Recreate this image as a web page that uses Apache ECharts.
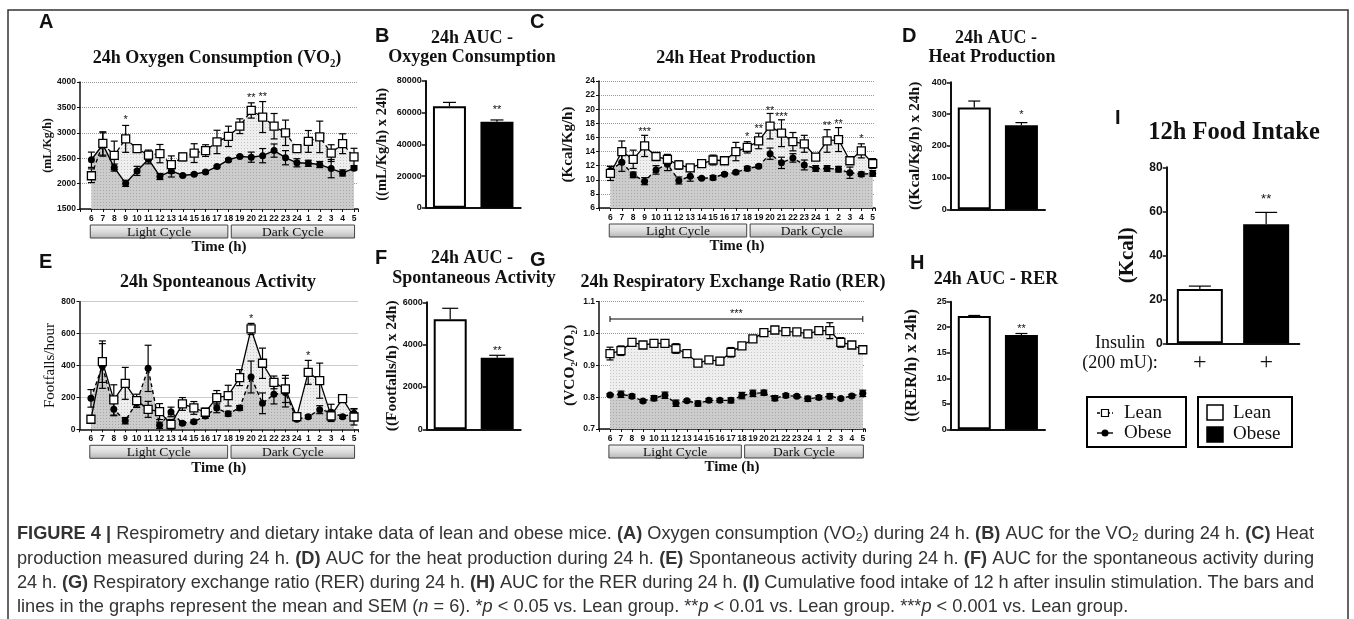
<!DOCTYPE html>
<html>
<head>
<meta charset="utf-8">
<script src="https://cdn.jsdelivr.net/npm/echarts@6/dist/echarts.min.js"></script>
<style>
html,body{margin:0;padding:0;background:#fff}
#main{width:1354px;height:619px}
</style>
</head>
<body>
<div id="main"></div>
<script>
// hour of day on the 24h panels
var hours = ['6','7','8','9','10','11','12','13','14','15','16','17','18','19','20','21','22','23','24','1','2','3','4','5'];
var groups = ['Lean', 'Obese'];

// A - oxygen consumption
var vo2Lean = [2155,2790,2556,2880,2690,2560,2590,2375,2525,2600,2650,2820,2930,3130,3440,3310,3130,3000,2690,2830,2920,2600,2785,2525];
var vo2LeanSem = [135,230,280,265,50,100,180,170,75,185,115,230,200,145,150,305,250,250,75,215,310,165,195,170];
var vo2Obese = [2470,2770,2315,2005,2250,2480,2140,2250,2160,2185,2230,2335,2465,2535,2520,2550,2650,2510,2410,2400,2375,2295,2210,2300];
var vo2ObeseSem = [150,230,70,60,90,90,60,120,20,20,20,20,30,20,100,140,130,140,80,60,60,180,60,30];
var vo2Sig = [[3,3294,'*'],[14,3731,'**'],[15,3751,'**']];

// C - heat production
var heatLean = [10.9,14.0,12.9,14.8,13.3,12.9,12.1,11.7,12.3,12.8,12.7,14.0,14.6,15.5,17.6,16.6,15.4,15.1,13.2,15.5,15.7,12.7,14.1,12.3];
var heatLeanSem = [1.0,1.5,1.3,1.5,0.4,0.7,0.6,0.3,0.2,0.7,0.3,1.3,0.8,1.1,1.8,1.9,1.3,1.2,0.4,1.6,1.7,0.5,1.0,0.7];
var heatObese = [11.3,12.5,10.7,9.8,11.4,12.2,9.9,10.5,10.2,10.3,10.8,11.05,11.6,11.9,13.7,12.4,13.1,12.1,11.6,11.6,11.5,11.0,10.8,10.9];
var heatObeseSem = [0.6,1.3,0.4,0.5,0.6,0.9,0.5,0.7,0.15,0.3,0.2,0.2,0.3,0.2,0.8,0.8,0.6,0.7,0.4,0.4,0.4,0.8,0.3,0.4];
var heatSig = [[3,17.0,'***'],[12,16.4,'*'],[13,17.5,'**'],[14,20.0,'**'],[15,19.15,'***'],[19,17.9,'**'],[20,18.2,'**'],[22,16.1,'*']];

// E - spontaneous activity
var actLean = [63,424,184,288,180,125,111,31,159,134,107,198,211,324,629,414,294,253,79,357,305,84,192,77];
var actLeanSem = [20,130,95,100,40,50,50,30,40,40,25,45,65,50,35,95,40,85,20,75,110,35,15,50];
var actObese = [194,397,125,54,167,382,25,109,38,48,84,134,98,134,328,163,219,230,63,79,123,107,79,100];
var actObeseSem = [55,140,40,20,30,145,20,30,10,10,15,30,15,15,100,65,60,90,10,10,25,50,10,30];
var actSig = [[14,706,'*'],[19,474,'*']];

// G - respiratory exchange ratio
var rerLean = [0.937,0.946,0.972,0.964,0.969,0.969,0.953,0.937,0.907,0.917,0.913,0.941,0.961,0.983,1.003,1.011,1.006,1.005,0.999,1.009,1.009,0.972,0.964,0.949];
var rerLeanSem = [0.02,0.015,0.005,0.006,0.005,0.012,0.015,0.005,0.01,0.005,0.012,0.015,0.006,0.005,0.005,0.004,0.004,0.004,0.004,0.012,0.025,0.015,0.005,0.004];
var rerObese = [0.807,0.809,0.803,0.788,0.797,0.806,0.781,0.789,0.780,0.790,0.790,0.790,0.805,0.812,0.814,0.797,0.805,0.803,0.795,0.799,0.803,0.796,0.804,0.812];
var rerObeseSem = [0.004,0.01,0.006,0.004,0.008,0.01,0.01,0.004,0.008,0.006,0.006,0.008,0.01,0.01,0.008,0.008,0.006,0.005,0.008,0.006,0.008,0.004,0.005,0.01];
var rerBracket = [0, 23, 1.0456, '***'];

// AUC bars (Lean, Obese)
var aucVo2 = [64000, 54300], aucVo2Sem = [2500, 1100], aucVo2Sig = [[1, 62800, '**']];
var aucHeat = [321, 265], aucHeatSem = [20, 8], aucHeatSig = [[1, 303, '*']];
var aucAct = [5197, 3386], aucActSem = [520, 110], aucActSig = [[1, 3808, '**']];
var aucRer = [22.2, 18.47], aucRerSem = [0.1, 0.3], aucRerSig = [[1, 20.1, '**']];
var food = [24.7, 54.1], foodSem = [1.3, 5.4], foodSig = [[1, 66.4, '**']];

// light / dark bands under the time axis (in hour index units)
var cycleBands = [['Light Cycle', -0.1, 11.95], ['Dark Cycle', 12.25, 23.05]];

var SERIF = '"Liberation Serif","Times New Roman",serif';
var SANS = '"Liberation Sans",Arial,sans-serif';
var INK = '#111';

function dotPattern(bg, dot) {
    var c = document.createElement('canvas');
    c.width = 3; c.height = 3;
    var g = c.getContext('2d');
    g.fillStyle = bg; g.fillRect(0, 0, 3, 3);
    g.fillStyle = dot; g.fillRect(1, 1, 1, 1);
    return {image: c, repeat: 'repeat'};
}
var leanFill = dotPattern('#eeeeee', '#c6c6c6');
var obeseFill = dotPattern('#cccccc', '#a8a8a8');

var grids = [], xAxes = [], yAxes = [], series = [], graphics = [];

function plain(v) { return String(v); }

function ln(x1, y1, x2, y2, w) {
    return {type: 'line', shape: {x1: x1, y1: y1, x2: x2, y2: y2}, style: {stroke: '#000', lineWidth: w || 1.2}};
}
function txt(x, y, s, font, align) {
    return {type: 'text', x: x, y: y, style: {text: s, font: font, fill: INK,
        align: align || 'center', verticalAlign: 'middle', textAlign: align || 'center', textVerticalAlign: 'middle'}};
}

function errorBars(gi, xs, means, sems, capW, upOnly, z) {
    return {type: 'custom', xAxisIndex: gi, yAxisIndex: gi, z: z, silent: true,
        data: means.map(function (m, i) { return [xs[i], m, sems[i]]; }),
        encode: {x: 0, y: 1},
        renderItem: function (params, api) {
            var x = api.value(0), m = api.value(1), e = api.value(2);
            var top = api.coord([x, m + e]), bot = api.coord([x, upOnly ? m : m - e]);
            var ch = [ln(top[0], top[1], bot[0], bot[1]), ln(top[0] - capW, top[1], top[0] + capW, top[1])];
            if (!upOnly) ch.push(ln(bot[0] - capW, bot[1], bot[0] + capW, bot[1]));
            return {type: 'group', children: ch};
        }};
}

function stars(gi, list, fs) {
    return {type: 'custom', xAxisIndex: gi, yAxisIndex: gi, z: 6, silent: true,
        data: list.map(function (s) { return [s[0], s[1]]; }),
        encode: {x: 0, y: 1},
        renderItem: function (params, api) {
            var p = api.coord([api.value(0), api.value(1)]);
            return txt(p[0], p[1] + 2, list[params.dataIndex][2], fs + 'px ' + SANS);
        }};
}

function cycles(gi, yMin) {
    return {type: 'custom', xAxisIndex: gi, yAxisIndex: gi, z: 5, silent: true,
        data: cycleBands.map(function (b) { return [b[1], b[2], yMin]; }),
        encode: {x: [0, 1], y: 2},
        renderItem: function (params, api) {
            var a = api.coord([api.value(0), api.value(2)]), b = api.coord([api.value(1), api.value(2)]);
            var y = a[1] + 16;
            return {type: 'group', children: [
                {type: 'rect', shape: {x: a[0], y: y, width: b[0] - a[0], height: 13},
                    style: {fill: new echarts.graphic.LinearGradient(0, 0, 0, 1, [
                        {offset: 0, color: '#f3f3f3'}, {offset: 0.5, color: '#dcdcdc'}, {offset: 1, color: '#b5b5b5'}]),
                        stroke: '#444', lineWidth: 1}},
                txt((a[0] + b[0]) / 2, y + 7, cycleBands[params.dataIndex][0], '13.5px ' + SERIF)
            ]};
        }};
}

function pts(arr) { return arr.map(function (v, i) { return [i, v]; }); }

function linePanel(p) {
    var gi = grids.length;
    grids.push({left: p.box[0], top: p.box[1], width: p.box[2], height: p.box[3], outerBoundsMode: 'none'});
    xAxes.push({type: 'value', gridIndex: gi, min: -1, max: p.xMax, interval: 1,
        axisLine: {onZero: false, lineStyle: {color: INK, width: 1.5}},
        axisTick: {length: 3, lineStyle: {color: INK, width: 1}},
        splitLine: {show: false},
        axisLabel: {margin: 5, fontSize: 8.5, fontWeight: 'bold', fontFamily: SANS, color: INK, hideOverlap: false,
            formatter: function (v) {
                var i = Math.round(v);
                return (Math.abs(v - i) < 1e-6 && i >= 0 && i < hours.length) ? hours[i] : '';
            }},
        name: 'Time (h)', nameLocation: 'middle', nameGap: 31, nameMoveOverlap: false,
        nameTextStyle: {fontFamily: SERIF, fontWeight: 'bold', fontSize: 15, color: INK}});
    yAxes.push({type: 'value', gridIndex: gi, min: p.yMin, max: p.yMax, interval: p.yInt,
        axisLine: {show: true, onZero: false, lineStyle: {color: INK, width: 1.5}},
        axisTick: {show: true, length: 3, lineStyle: {color: INK}},
        splitLine: {show: true, lineStyle: {color: '#999', type: 'dotted', width: 1}},
        axisLabel: {margin: 4, fontSize: 8.5, fontWeight: 'bold', fontFamily: SANS, color: INK, formatter: p.yFmt || plain},
        name: p.yName, nameLocation: 'middle', nameGap: p.yGap, nameRotate: 90, nameMoveOverlap: false,
        nameTextStyle: {fontFamily: SERIF, fontWeight: p.yBold === false ? 'normal' : 'bold', fontSize: p.yFs, color: INK}});
    var xs = hours.map(function (h, i) { return i; });
    series.push({type: 'line', xAxisIndex: gi, yAxisIndex: gi, data: pts(p.lean), symbol: 'none', silent: true, z: 1,
        lineStyle: {width: 0, opacity: 0}, areaStyle: {color: leanFill, opacity: 1, origin: 'start'}});
    series.push({type: 'line', xAxisIndex: gi, yAxisIndex: gi, data: pts(p.obese), symbol: 'none', silent: true, z: 1,
        lineStyle: {width: 0, opacity: 0}, areaStyle: {color: obeseFill, opacity: 1, origin: 'start'}});
    series.push(errorBars(gi, xs, p.lean, p.leanSem, 3.5, false, 2));
    series.push(errorBars(gi, xs, p.obese, p.obeseSem, 3.5, false, 2));
    series.push({type: 'line', name: 'Obese', xAxisIndex: gi, yAxisIndex: gi, data: pts(p.obese), silent: true, z: 3,
        symbol: 'circle', symbolSize: 7, itemStyle: {color: '#000'},
        lineStyle: {color: '#000', width: 1.4, type: p.leanDash ? 'solid' : [4, 3]}});
    series.push({type: 'line', name: 'Lean', xAxisIndex: gi, yAxisIndex: gi, data: pts(p.lean), silent: true, z: 4,
        symbol: 'rect', symbolSize: 8, itemStyle: {color: '#fff', borderColor: '#000', borderWidth: 1.3},
        lineStyle: {color: '#000', width: 1.3, type: p.leanDash ? [4, 3] : 'solid'}});
    if (p.sig) series.push(stars(gi, p.sig, 11));
    series.push(cycles(gi, p.yMin));
    return gi;
}

function barPanel(p) {
    var gi = grids.length;
    grids.push({left: p.box[0], top: p.box[1], width: p.box[2], height: p.box[3], outerBoundsMode: 'none'});
    xAxes.push({type: 'category', gridIndex: gi, data: groups,
        axisLine: {lineStyle: {color: INK, width: 2}}, axisTick: {show: false},
        axisLabel: p.plus ? {show: true, formatter: function () { return '+'; }, fontFamily: SERIF, fontSize: 24, color: INK, margin: 7}
                          : {show: false}});
    yAxes.push({type: 'value', gridIndex: gi, min: 0, max: p.yMax, interval: p.yInt,
        axisLine: {show: true, onZero: false, lineStyle: {color: INK, width: 2}},
        axisTick: {show: true, length: 4, lineStyle: {color: INK, width: 1.5}},
        splitLine: {show: false},
        axisLabel: {margin: 4, fontSize: p.tickFs || 9, fontWeight: 'bold', fontFamily: SANS, color: INK, formatter: plain},
        name: p.yName, nameLocation: 'middle', nameGap: p.yGap, nameRotate: 90, nameMoveOverlap: false,
        nameTextStyle: {fontFamily: SERIF, fontWeight: 'bold', fontSize: p.yFs, color: INK}});
    series.push({type: 'bar', xAxisIndex: gi, yAxisIndex: gi, barWidth: p.barW, silent: true, z: 2,
        data: p.vals.map(function (v, i) {
            return {value: v, itemStyle: {color: i ? '#000' : '#fff', borderColor: '#000', borderWidth: 2}};
        })});
    series.push(errorBars(gi, [0, 1], p.vals, p.sems, p.cap, true, 3));
    series.push(stars(gi, p.sig, p.starFs || 11));
}

// panels
linePanel({box: [80, 82, 278, 127], xMax: 23.35, yMin: 1500, yMax: 4000, yInt: 500,
    yName: '(mL/Kg/h)', yGap: 26, yFs: 12, lean: vo2Lean, leanSem: vo2LeanSem, obese: vo2Obese, obeseSem: vo2ObeseSem,
    leanDash: true, sig: vo2Sig});
barPanel({box: [425.7, 81, 95, 126.7], yMax: 80000, yInt: 20000, yName: '((mL/Kg/h) x 24h)', yGap: 36, yFs: 14.5,
    vals: aucVo2, sems: aucVo2Sem, sig: aucVo2Sig, barW: 33, cap: 6.5});
linePanel({box: [599, 81, 276, 127], xMax: 23.2, yMin: 6, yMax: 24, yInt: 2,
    yName: '(Kcal/Kg/h)', yGap: 23.5, yFs: 15, lean: heatLean, leanSem: heatLeanSem, obese: heatObese, obeseSem: heatObeseSem,
    leanDash: false, sig: heatSig});
barPanel({box: [950.7, 82.3, 94.3, 127], yMax: 400, yInt: 100, yName: '((Kcal/Kg/h) x 24h)', yGap: 28, yFs: 15.5,
    vals: aucHeat, sems: aucHeatSem, sig: aucHeatSig, barW: 33, cap: 6});
linePanel({box: [79.5, 301.7, 278.5, 127.6], xMax: 23.35, yMin: 0, yMax: 800, yInt: 200,
    yName: 'Footfalls/hour', yGap: 21.5, yFs: 15, yBold: false, lean: actLean, leanSem: actLeanSem, obese: actObese, obeseSem: actObeseSem,
    leanDash: false, sig: actSig});
barPanel({box: [426.7, 302.3, 94, 127], yMax: 6000, yInt: 2000, yName: '((Footfalls/h) x 24h)', yGap: 27, yFs: 15.5,
    vals: aucAct, sems: aucActSem, sig: aucActSig, barW: 33, cap: 8});
var gG = linePanel({box: [599, 301.7, 266, 127.3], xMax: 23.2, yMin: 0.7, yMax: 1.1, yInt: 0.1,
    yFmt: function (v) { return v.toFixed(1); },
    yName: '(VCO₂/VO₂)', yGap: 21, yFs: 15.5, lean: rerLean, leanSem: rerLeanSem, obese: rerObese, obeseSem: rerObeseSem,
    leanDash: false});
series.push({type: 'custom', xAxisIndex: gG, yAxisIndex: gG, z: 6, silent: true,
    data: [[rerBracket[0], rerBracket[1], rerBracket[2]]], encode: {x: [0, 1], y: 2},
    renderItem: function (params, api) {
        var a = api.coord([api.value(0), api.value(2)]), b = api.coord([api.value(1), api.value(2)]);
        return {type: 'group', children: [
            ln(a[0], a[1], b[0], b[1], 1), ln(a[0], a[1] - 3, a[0], a[1] + 3, 1), ln(b[0], b[1] - 3, b[0], b[1] + 3, 1),
            txt((a[0] + b[0]) / 2, a[1] - 5, rerBracket[3], '11px ' + SANS)
        ]};
    }});
barPanel({box: [950.7, 301.7, 94.3, 127.6], yMax: 25, yInt: 5, yName: '((RER/h) x 24h)', yGap: 30, yFs: 16.5,
    vals: aucRer, sems: aucRerSem, sig: aucRerSig, barW: 33, cap: 6});
barPanel({box: [1166.7, 167.3, 132.6, 176], yMax: 80, yInt: 20, yName: '(Kcal)', yGap: 29, yFs: 21, tickFs: 12,
    vals: food, sems: foodSem, sig: foodSig, barW: 46, cap: 11, plus: true, starFs: 13});

// frame, panel letters, titles
graphics.push({type: 'polyline', shape: {points: [[8, 619], [8, 10], [1348, 10], [1348, 619]]},
    style: {stroke: '#333', lineWidth: 1.5, fill: null}});
var LET = 'bold 20px ' + SANS, TT = 'bold 18px ' + SERIF;
[['A', 39, 22], ['B', 375, 36], ['C', 530, 22], ['D', 902, 36], ['E', 39, 262], ['F', 375, 258],
 ['G', 530, 260], ['H', 910, 263], ['I', 1115, 118]].forEach(function (l) {
    graphics.push(txt(l[1], l[2], l[0], LET, 'left'));
});
[['24h Oxygen Consumption (VO₂)', 217, 58], ['24h AUC -', 472, 38], ['Oxygen Consumption', 472, 57],
 ['24h Heat Production', 736, 58], ['24h AUC -', 996, 38], ['Heat Production', 992, 57],
 ['24h Sponteanous Activity', 218, 282], ['24h AUC -', 472, 258], ['Spontaneous Activity', 474, 278],
 ['24h Respiratory Exchange Ratio (RER)', 733, 282], ['24h AUC - RER', 996, 279]].forEach(function (t) {
    graphics.push(txt(t[1], t[2], t[0], TT));
});
graphics.push(txt(1234, 133, '12h Food Intake', 'bold 24.5px ' + SERIF));
graphics.push(txt(1120, 343, 'Insulin', '18px ' + SERIF));
graphics.push(txt(1120, 363, '(200 mU):', '18px ' + SERIF));

// legends under panel I
var LG = '19px ' + SERIF;
graphics.push({type: 'rect', shape: {x: 1087, y: 397, width: 99, height: 50}, style: {fill: null, stroke: '#000', lineWidth: 2}});
graphics.push({type: 'line', shape: {x1: 1097, y1: 413, x2: 1113, y2: 413}, style: {stroke: '#000', lineWidth: 1.3, lineDash: [3, 2]}});
graphics.push({type: 'rect', shape: {x: 1101.5, y: 409.5, width: 7, height: 7}, style: {fill: '#fff', stroke: '#000', lineWidth: 1.2}});
graphics.push({type: 'line', shape: {x1: 1097, y1: 433, x2: 1113, y2: 433}, style: {stroke: '#000', lineWidth: 1.4}});
graphics.push({type: 'circle', shape: {cx: 1105, cy: 433, r: 3.5}, style: {fill: '#000'}});
graphics.push(txt(1124, 413, 'Lean', LG, 'left'));
graphics.push(txt(1124, 433, 'Obese', LG, 'left'));
graphics.push({type: 'rect', shape: {x: 1198, y: 397, width: 94, height: 50}, style: {fill: null, stroke: '#000', lineWidth: 2}});
graphics.push({type: 'rect', shape: {x: 1207, y: 405, width: 16, height: 15}, style: {fill: '#fff', stroke: '#000', lineWidth: 1.5}});
graphics.push({type: 'rect', shape: {x: 1207, y: 427, width: 16, height: 15}, style: {fill: '#000', stroke: '#000', lineWidth: 1.5}});
graphics.push(txt(1233, 413, 'Lean', LG, 'left'));
graphics.push(txt(1233, 434, 'Obese', LG, 'left'));

// caption, justified word by word
var capLines = [
    '{b|FIGURE} {b|4} {b||} Respirometry and dietary intake data of lean and obese mice. {b|(A)} Oxygen consumption (VO₂) during 24 h. {b|(B)} AUC for the VO₂ during 24 h. {b|(C)} Heat',
    'production measured during 24 h. {b|(D)} AUC for the heat production during 24 h. {b|(E)} Spontaneous activity during 24 h. {b|(F)} AUC for the spontaneous activity during',
    '24 h. {b|(G)} Respiratory exchange ratio (RER) during 24 h. {b|(H)} AUC for the RER during 24 h. {b|(I)} Cumulative food intake of 12 h after insulin stimulation. The bars and',
    'lines in the graphs represent the mean and SEM ({i|n} = 6). *{i|p} < 0.05 vs. Lean group. **{i|p} < 0.01 vs. Lean group. ***{i|p} < 0.001 vs. Lean group.'
];
var CAP_X = 17, CAP_W = 1297, capY = [534, 558.5, 582.5, 606.5];
var mctx = document.createElement('canvas').getContext('2d');
function fontOf(k, fs) { return (k === 'b' ? 'bold ' : k === 'i' ? 'italic ' : '') + fs + 'px ' + SANS; }
function segs(tok) {
    var out = [], re = /\{(\w+)\|([^}]*)\}/g, last = 0, m;
    while ((m = re.exec(tok))) {
        if (m.index > last) out.push(['', tok.slice(last, m.index)]);
        out.push([m[1], m[2]]);
        last = re.lastIndex;
    }
    if (last < tok.length) out.push(['', tok.slice(last)]);
    return out;
}
function tokW(tok, fs) {
    return segs(tok).reduce(function (s, g) { mctx.font = fontOf(g[0], fs); return s + mctx.measureText(g[1]).width; }, 0);
}
function lineW(line, fs) {
    var w = line.split(' ');
    mctx.font = fontOf('', fs);
    return w.reduce(function (s, t) { return s + tokW(t, fs); }, 0) + mctx.measureText(' ').width * (w.length - 1);
}
var capFs = 16 * CAP_W / lineW(capLines[0], 16);
var capRich = {b: {font: fontOf('b', capFs), fill: '#333'}, i: {font: fontOf('i', capFs), fill: '#333'}};
capLines.forEach(function (line, li) {
    var words = line.split(' ');
    var ws = words.map(function (w) { return tokW(w, capFs); });
    var sum = ws.reduce(function (a, b) { return a + b; }, 0);
    mctx.font = fontOf('', capFs);
    var gap = li < 3 ? (CAP_W - sum) / (words.length - 1) : mctx.measureText(' ').width;
    var x = CAP_X;
    words.forEach(function (w, i) {
        graphics.push({type: 'text', x: x, y: capY[li], style: {text: w, rich: capRich, font: fontOf('', capFs), fill: '#333',
            align: 'left', verticalAlign: 'middle', textAlign: 'left', textVerticalAlign: 'middle'}});
        x += ws[i] + gap;
    });
});

var chart = echarts.init(document.getElementById('main'));
chart.setOption({
    animation: false,
    backgroundColor: '#fff',
    grid: grids,
    xAxis: xAxes,
    yAxis: yAxes,
    series: series,
    graphic: {elements: graphics}
});
</script>
</body>
</html>
